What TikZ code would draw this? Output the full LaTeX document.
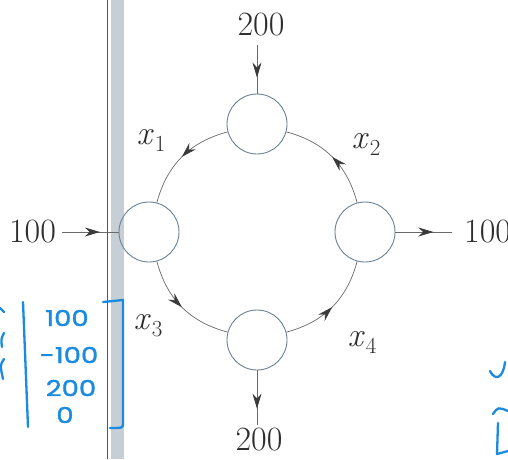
\documentclass[tikz,border=0pt]{standalone}
\usepackage{fontspec}
\newfontfamily\handfont[FakeStretch=1.25,FakeBold=1.5]{Poppins}
\usetikzlibrary{arrows.meta,decorations.markings}
\definecolor{ink}{HTML}{2E2E2E}
\definecolor{linegray}{HTML}{6A6A6A}
\definecolor{headgray}{HTML}{3A3A3A}
\definecolor{circ}{HTML}{6A8294}
\definecolor{barcol}{HTML}{C6CED6}
\definecolor{barline}{HTML}{555555}
\definecolor{pen}{HTML}{1A8BE0}
\newcommand{\varx}[1]{\textit{x}\kern1pt\raisebox{-7pt}{\fontsize{23}{25}\selectfont #1}}
\begin{document}
\begin{tikzpicture}[x=1pt,y=1pt,
  hub/.style={circle,draw=circ,line width=0.9pt,minimum size=60pt,inner sep=0pt},
  flow/.style={draw=linegray,line width=0.7pt,postaction={decorate},
    decoration={markings,mark=at position #1 with {\arrow{Stealth[length=15pt,width=9pt,color=headgray]}}}},
  flow/.default=0.5,
  num/.style={inner sep=0pt,text=ink,font=\fontsize{34}{37}\selectfont},
  var/.style={inner sep=0pt,text=ink,font=\fontsize{34}{37}\selectfont},
  hand/.style={draw=pen,line width=2.3pt,line cap=round,line join=round},
  handtext/.style={inner sep=0pt,text=pen,font=\handfont\fontsize{22}{25}\selectfont}
]
\clip (0,0) rectangle (508,459);
\fill[white] (0,0) rectangle (508,459);
% gutter bar
\fill[barcol] (110.5,0) rectangle (124,459);
\draw[barline,line width=0.7pt] (107.5,0) -- (107.5,459);

% hubs
\node[hub] (T) at (257,335) {};
\node[hub] (L) at (149,227) {};
\node[hub] (R) at (365,227) {};
\node[hub] (B) at (257,119) {};

% ring flows
\draw[flow] (T) to[out=195,in=75] (L);
\draw[flow] (R) to[out=105,in=345] (T);
\draw[flow] (L) to[out=285,in=165] (B);
\draw[flow] (B) to[out=15,in=255] (R);

% external flows
\coordinate (tin) at (257,414);
\coordinate (lin) at (62,227);
\coordinate (rout) at (452,227);
\coordinate (bout) at (257,34);
\draw[flow=0.67] (tin) -- (T);
\draw[flow=0.67] (lin) -- (L);
\draw[flow=0.67] (R) -- (rout);
\draw[flow=0.7] (B) -- (bout);

% numbers
\node[num] (ntop) at (261,434) {200};
\node[num] (nleft) at (32.5,227) {100};
\node[num,anchor=west] (nright) at (464,227) {100};
\node[num] (nbot) at (259,19) {200};

% variable labels
\node[var] (x1) at (151,318) {\varx{1}};
\node[var] (x2) at (366,314) {\varx{2}};
\node[var] (x3) at (148,133) {\varx{3}};
\node[var] (x4) at (362,117) {\varx{4}};

% handwritten annotations
\draw[hand] (23,157) -- (28,32);
\node[handtext] (h1) at (67,141) {100};
\node[handtext] (h2) at (69,104) {-100};
\node[handtext] (h3) at (71,71) {200};
\node[handtext] (h4) at (65,44) {0};
\draw[hand] (103,157) -- (123,159) -- (123,36) .. controls (123,31) .. (110,31);
% fragments at the edges
\draw[hand] (0,151) -- (4,147);
\draw[hand] (4,126) .. controls (1,120) .. (2,112);
\draw[hand] (4,100) .. controls (0,94) .. (3,80);
\draw[hand] (505,97) .. controls (503,80) and (495,78) .. (490,88);
\draw[hand] (493,45) .. controls (498,52) .. (508,48);
\draw[hand] (498,36) -- (497,5) -- (508,8);
\end{tikzpicture}
\end{document}
